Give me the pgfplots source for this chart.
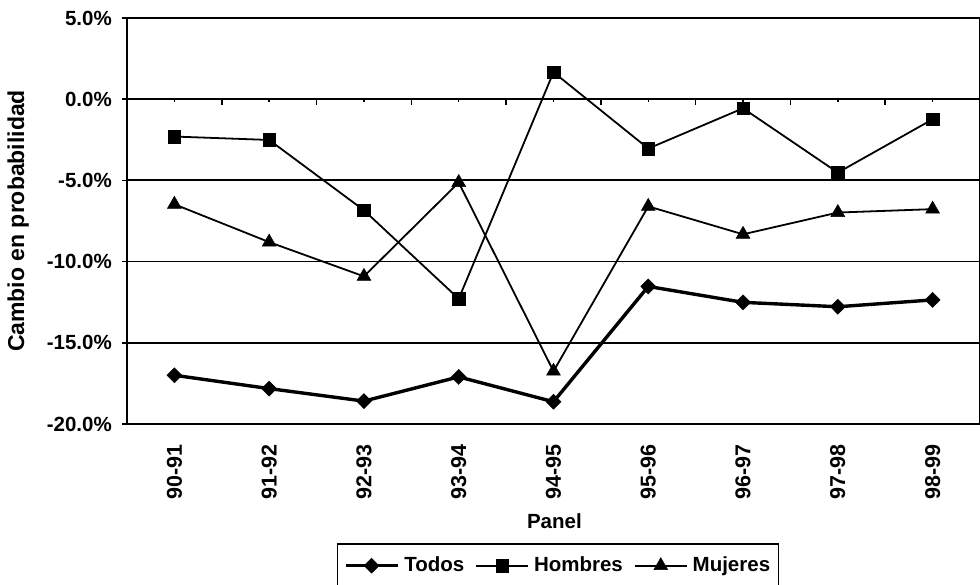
\documentclass[border=0pt]{standalone}
\usepackage{pgfplots}
\pgfplotsset{compat=1.18}
\usepackage{fontspec}
\setmainfont{Liberation Sans}

% change in probability (percentage points) by panel pair
\pgfplotstableread{
x  todos   hombres  mujeres
0  -17.00  -2.30    -6.47
1  -17.82  -2.51    -8.80
2  -18.59  -6.84    -10.91
3  -17.10  -12.29   -5.13
4  -18.63   1.66    -16.75
5  -11.53  -3.04    -6.60
6  -12.51  -0.56    -8.32
7  -12.78  -4.52    -6.98
8  -12.36  -1.24    -6.77
}\panel

\begin{document}
\begin{tikzpicture}
\useasboundingbox (0pt,0pt) rectangle (980pt,585pt);
\begin{axis}[
  at={(127pt,161pt)}, anchor=south west,
  width=853pt, height=406pt, scale only axis,
  xmin=-0.5, xmax=8.5, ymin=-20, ymax=5,
  xtick={0,...,8},
  xticklabels={90-91,91-92,92-93,93-94,94-95,95-96,96-97,97-98,98-99},
  xtick style={draw=none},
  xticklabel style={rotate=90, anchor=east, inner sep=0pt,
    font=\fontsize{21.5}{25}\selectfont\bfseries},
  xticklabel shift=15pt,
  ytick={-20,-15,-10,-5,0,5},
  yticklabels={-20.0\%,-15.0\%,-10.0\%,-5.0\%,0.0\%,5.0\%},
  yticklabel style={font=\fontsize{20.5}{24}\selectfont\bfseries, inner sep=0pt},
  yticklabel shift=10pt,
  ytick style={black, line width=1.5pt},
  tick align=outside,
  major tick length=5pt,
  ymajorgrids,
  major grid style={black, line width=1.8pt},
  axis line style={black, line width=1.8pt},
  xlabel={Panel},
  xlabel style={at={(axis description cs:0.501,-0.239)}, anchor=center,
    font=\fontsize{20.5}{24}\selectfont\bfseries},
  ylabel={Cambio en probabilidad},
  ylabel style={at={(axis description cs:-0.1276,0.5)}, anchor=center,
    font=\fontsize{23}{27}\selectfont\bfseries},
  legend columns=3,
  legend style={
    name=leg,
    at={(axis description cs:0.5053,-0.2956)}, anchor=north,
    draw=none, fill=none,
    inner xsep=6pt, inner ysep=10pt,
    font=\fontsize{20.5}{24}\selectfont\bfseries,
    nodes={inner sep=2pt, text height=15pt, text depth=4pt},
    /tikz/every odd column/.append style={column sep=3pt},
    /tikz/every even column/.append style={column sep=9pt},
  },
  legend image code/.code={
    \draw[mark repeat=2, mark phase=2, #1]
      plot coordinates {(0pt,0pt) (26pt,0pt) (52pt,0pt)};
  },
]
% small ticks at the categories and larger ones between them, on the zero line
\pgfplotsinvokeforeach{0,...,8}{
  \draw[black, line width=1.5pt] (axis cs:#1,0) -- ++(0pt,-3pt);
}
\pgfplotsinvokeforeach{0.5,1.5,2.5,3.5,4.5,5.5,6.5,7.5}{
  \draw[black, line width=1.5pt] (axis cs:#1,0) -- ++(0pt,-5.5pt);
}
\addplot[black, line width=3.4pt, mark=diamond*, mark size=7.5pt,
  mark options={solid, xscale=1.33, line width=0.5pt}]
  table[x=x, y=todos] {\panel};
\addlegendentry{Todos}
\addplot[black, line width=1.8pt, mark=square*, mark size=6.3pt,
  mark options={solid, line width=0.5pt}]
  table[x=x, y=hombres] {\panel};
\addlegendentry{Hombres}
\addplot[black, line width=1.8pt, mark=triangle*, mark size=8pt,
  mark options={solid, line width=0.5pt}]
  table[x=x, y=mujeres] {\panel};
\addlegendentry{Mujeres}
\end{axis}
% legend frame, running on past the lower edge
\draw[black, line width=1.5pt]
  ([yshift=-80pt]leg.south west) |- (leg.north east)
  -- ([yshift=-80pt]leg.south east);
\end{tikzpicture}
\end{document}
